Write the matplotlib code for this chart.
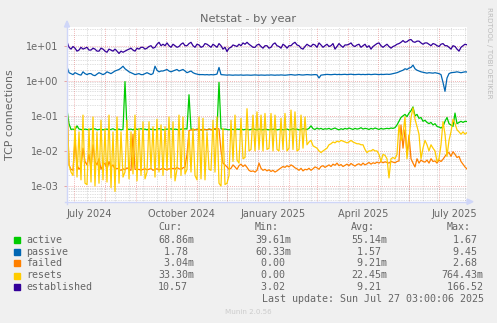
import datetime as dt

import numpy as np
import matplotlib
matplotlib.use('Agg')
import matplotlib.pyplot as plt
from matplotlib.lines import Line2D
from matplotlib.patches import Polygon, Rectangle
from matplotlib.ticker import FixedLocator, NullFormatter, NullLocator

W, H = 497, 323
START = dt.date(2024, 6, 24)
SPAN = 400

# samples every second day, 201 values per series
active = [
    0.15, 0.06, 0.041, 0.042, 0.04, 0.052, 0.042, 0.041, 0.04, 0.042,
    0.041, 0.04, 0.042, 0.041, 0.043, 0.04, 0.041, 0.042, 0.04, 0.041,
    0.042, 0.04, 0.041, 0.043, 0.04, 0.041, 0.042, 0.04, 0.041, 0.95,
    0.043, 0.041, 0.042, 0.04, 0.044, 0.041, 0.042, 0.043, 0.041, 0.042,
    0.04, 0.043, 0.041, 0.042, 0.04, 0.041, 0.043, 0.042, 0.04, 0.041,
    0.042, 0.041, 0.043, 0.04, 0.042, 0.041, 0.04, 0.042, 0.041, 0.043,
    0.042, 0.4, 0.042, 0.041, 0.04, 0.042, 0.041, 0.04, 0.042, 0.041,
    0.04, 0.042, 0.041, 0.04, 0.042, 0.041, 0.9, 0.043, 0.041, 0.042,
    0.041, 0.04, 0.042, 0.041, 0.04, 0.042, 0.041, 0.043, 0.04, 0.041,
    0.042, 0.04, 0.041, 0.043, 0.041, 0.04, 0.042, 0.041, 0.04, 0.042,
    0.041, 0.04, 0.042, 0.041, 0.043, 0.04, 0.041, 0.042, 0.04, 0.041,
    0.042, 0.04, 0.041, 0.043, 0.041, 0.042, 0.04, 0.041, 0.043, 0.042,
    0.041, 0.044, 0.052, 0.043, 0.041, 0.045, 0.042, 0.044, 0.041, 0.043,
    0.042, 0.044, 0.041, 0.043, 0.045, 0.042, 0.04, 0.043, 0.041, 0.044,
    0.042, 0.045, 0.043, 0.041, 0.044, 0.042, 0.043, 0.046, 0.042, 0.044,
    0.043, 0.041, 0.044, 0.042, 0.045, 0.043, 0.041, 0.044, 0.042, 0.043,
    0.044, 0.043, 0.045, 0.044, 0.046, 0.055, 0.07, 0.09, 0.1, 0.11,
    0.095, 0.12, 0.14, 0.18, 0.1, 0.11, 0.085, 0.09, 0.07, 0.075,
    0.065, 0.06, 0.065, 0.055, 0.06, 0.05, 0.048, 0.045, 0.05, 0.07,
    0.09, 0.06, 0.055, 0.05, 0.12, 0.06, 0.065, 0.07, 0.065, 0.07,
    0.06886,
]

passive = [
    2.5, 1.7, 1.6, 1.5, 1.7, 1.6, 1.5, 1.45, 1.8, 1.6,
    1.5, 1.6, 1.6, 1.45, 1.4, 1.55, 1.7, 1.6, 1.5, 1.6,
    1.8, 1.7, 1.6, 1.75, 1.9, 2.0, 2.1, 2.3, 2.6, 2.2,
    2.0, 1.8, 1.7, 1.6, 1.5, 1.55, 1.6, 1.5, 1.5, 1.6,
    1.7, 1.6, 1.5, 1.6, 2.6, 2.0, 1.8, 1.9, 1.9, 2.0,
    2.1, 1.9, 1.8, 1.9, 2.0, 2.1, 1.9, 2.0, 2.1, 1.9,
    1.7, 1.8, 1.9, 1.7, 1.6, 1.55, 1.5, 1.5, 1.5, 1.48,
    1.5, 1.47, 1.5, 1.48, 1.5, 1.55, 2.4, 1.5, 1.48, 1.45,
    1.45, 1.47, 1.45, 1.44, 1.46, 1.45, 1.45, 1.47, 1.44, 1.45,
    1.46, 1.45, 1.44, 1.45, 1.47, 1.45, 1.44, 1.46, 1.45, 1.44,
    1.46, 1.45, 1.47, 1.45, 1.44, 1.46, 1.45, 1.47, 1.45, 1.44,
    1.46, 1.48, 1.5, 1.47, 1.45, 1.48, 1.5, 1.47, 1.46, 1.48,
    1.5, 1.48, 1.47, 1.49, 1.5, 1.48, 1.2, 1.45, 1.48, 1.5,
    1.52, 1.5, 1.49, 1.51, 1.53, 1.5, 1.52, 1.5, 1.51, 1.53,
    1.5, 1.52, 1.54, 1.51, 1.5, 1.52, 1.53, 1.5, 1.52, 1.5,
    1.51, 1.53, 1.5, 1.52, 1.54, 1.52, 1.5, 1.53, 1.51, 1.52,
    1.54, 1.52, 1.55, 1.6, 1.65, 1.7, 1.8, 1.9, 2.0, 2.2,
    2.1, 2.3, 2.4, 2.8, 2.2, 2.0, 1.9, 1.8, 1.75, 1.7,
    1.65, 1.7, 1.68, 1.65, 1.7, 1.65, 1.6, 1.5, 0.9, 0.5,
    1.2, 1.6, 1.7, 1.72, 1.75, 1.8, 1.75, 1.7, 1.75, 1.8,
    1.78,
]

failed = [
    0.25, 0.004, 0.003, 0.0028, 0.02, 0.004, 0.003, 0.0035, 0.012, 0.005,
    0.004, 0.008, 0.003, 0.015, 0.005, 0.004, 0.006, 0.003, 0.004, 0.0045,
    0.003, 0.005, 0.0035, 0.004, 0.003, 0.0032, 0.003, 0.0028, 0.0031, 0.0029,
    0.0033, 0.003, 0.0028, 0.03, 0.003, 0.0029, 0.003, 0.0028, 0.003, 0.0031,
    0.0029, 0.003, 0.0032, 0.0028, 0.003, 0.0031, 0.0029, 0.003, 0.0033, 0.003,
    0.0029, 0.0031, 0.003, 0.0032, 0.003, 0.0034, 0.0031, 0.003, 0.0033, 0.0035,
    0.008, 0.038, 0.04, 0.039, 0.041, 0.04, 0.042, 0.04, 0.039, 0.041,
    0.04, 0.042, 0.04, 0.041, 0.043, 0.045, 0.042, 0.01, 0.0045, 0.004,
    0.0035, 0.003, 0.0032, 0.004, 0.0035, 0.003, 0.0038, 0.0042, 0.0036, 0.004,
    0.0034, 0.0028, 0.0026, 0.0027, 0.0025, 0.0028, 0.0045, 0.0032, 0.0028, 0.003,
    0.0027, 0.0029, 0.0026, 0.0028, 0.0025, 0.0027, 0.003, 0.0033, 0.0036, 0.0034,
    0.0038, 0.0035, 0.004, 0.0037, 0.0033, 0.0031, 0.0028, 0.0032, 0.0027, 0.003,
    0.0029, 0.0032, 0.0028, 0.0031, 0.0035, 0.0033, 0.003, 0.0036, 0.0038, 0.0034,
    0.0037, 0.004, 0.0036, 0.0042, 0.0039, 0.0045, 0.0038, 0.0041, 0.0036, 0.0039,
    0.0042, 0.0038, 0.0044, 0.004, 0.0037, 0.0041, 0.0043, 0.0039, 0.0045, 0.004,
    0.0043, 0.0047, 0.0042, 0.0046, 0.0044, 0.0048, 0.0045, 0.005, 0.0046, 0.0049,
    0.0047, 0.0045, 0.005, 0.0048, 0.0046, 0.005, 0.0052, 0.055, 0.012, 0.04,
    0.008, 0.028, 0.006, 0.0045, 0.0035, 0.006, 0.0045, 0.0055, 0.005, 0.0048,
    0.0055, 0.0045, 0.006, 0.005, 0.0052, 0.0045, 0.0055, 0.005, 0.0058, 0.007,
    0.0085, 0.009, 0.007, 0.0095, 0.008, 0.0065, 0.007, 0.005, 0.0042, 0.0035,
    0.00304,
]

resets = [
    0.2, 0.004, 0.0025, 0.002, 0.05, 0.0018, 0.035, 0.0015, 0.105, 0.0012,
    0.0011, 0.044, 0.0013, 0.093, 0.001, 0.035, 0.0012, 0.075, 0.0015, 0.044,
    0.0013, 0.105, 0.0009, 0.035, 0.0007, 0.093, 0.0012, 0.035, 0.0018, 0.0025,
    0.075, 0.0016, 0.035, 0.0022, 0.105, 0.0014, 0.044, 0.002, 0.068, 0.0016,
    0.0025, 0.068, 0.003, 0.049, 0.0018, 0.08, 0.0025, 0.055, 0.002, 0.049,
    0.0028, 0.093, 0.0017, 0.068, 0.0014, 0.003, 0.105, 0.002, 0.093, 0.0022,
    0.003, 0.035, 0.0025, 0.044, 0.002, 0.0015, 0.093, 0.0016, 0.085, 0.0015,
    0.035, 0.003, 0.0028, 0.075, 0.0025, 0.093, 0.0012, 0.001, 0.044, 0.0011,
    0.0012, 0.002, 0.075, 0.005, 0.105, 0.0055, 0.0045, 0.085, 0.006, 0.0065,
    0.16, 0.01, 0.011, 0.105, 0.01, 0.13, 0.011, 0.105, 0.01, 0.117,
    0.011, 0.012, 0.117, 0.01, 0.105, 0.011, 0.01, 0.085, 0.011, 0.117,
    0.01, 0.012, 0.146, 0.011, 0.13, 0.01, 0.011, 0.105, 0.012, 0.093,
    0.015, 0.018, 0.02, 0.014, 0.013, 0.012, 0.01, 0.009, 0.01, 0.011,
    0.012, 0.015, 0.016, 0.018, 0.017, 0.019, 0.018, 0.02, 0.019, 0.018,
    0.017, 0.018, 0.02, 0.018, 0.017, 0.016, 0.016, 0.015, 0.015, 0.011,
    0.009, 0.01, 0.01, 0.011, 0.01, 0.01, 0.008, 0.005, 0.008, 0.0075,
    0.006, 0.0017, 0.006, 0.0065, 0.006, 0.008, 0.055, 0.02, 0.03, 0.095,
    0.006, 0.02, 0.09, 0.17, 0.08, 0.05, 0.03, 0.006, 0.012, 0.02,
    0.015, 0.01, 0.015, 0.012, 0.01, 0.005, 0.006, 0.015, 0.068, 0.03,
    0.007, 0.02, 0.035, 0.08, 0.06, 0.04, 0.035, 0.03, 0.035, 0.03,
    0.0333,
]

established = [
    13, 9, 8, 9.5, 8.5, 7, 7.5, 9, 8, 8.5,
    9, 7.5, 7.5, 8.5, 8, 7, 7, 8.5, 8, 7,
    6.5, 8, 7.5, 7, 8, 7, 6, 7, 6.5, 7,
    7.5, 8, 8.5, 7.5, 7, 8.5, 8, 9, 9, 8,
    8.5, 9.5, 10, 8.5, 9, 11, 12.5, 10, 11, 10,
    12, 10, 9, 11, 10, 9, 9.5, 11, 12, 10,
    10, 11.5, 12.5, 10, 9, 11, 10.5, 9, 9.5, 11.5,
    11, 10, 9, 11, 10, 9, 11.5, 10, 8, 9,
    6.8, 8.5, 9, 10.5, 10, 9.5, 11, 10, 12, 11,
    12.5, 11, 10, 9, 9, 10.5, 11, 9.5, 8.5, 10,
    10, 8.5, 9, 11, 12, 10, 9.5, 8.5, 11, 10,
    8.5, 10, 10, 11.5, 12.5, 10.5, 10, 8.5, 8, 9.5,
    11, 10, 9.5, 11, 10.5, 9, 12, 10.5, 9, 10,
    11, 9.5, 10, 11.5, 8, 9.5, 11.5, 10, 9, 10.5,
    10.5, 11, 12, 10, 9.5, 10.5, 11, 9, 10, 11,
    9, 10, 8, 9.5, 10.5, 11.5, 12, 10, 9, 10,
    11, 9.5, 8.5, 9.5, 10, 11, 11.5, 12.5, 14, 12.5,
    13, 14.5, 15, 13, 12.5, 13.5, 13.5, 12, 11, 12,
    12, 11, 10, 11.5, 11, 10, 9.5, 11, 11.5, 10,
    10, 9, 8, 10, 9.5, 8, 7, 9, 10, 11,
    10.57,
]

series_names = ['active', 'passive', 'failed', 'resets', 'established']
series_colors = ['#00CC00', '#0066B3', '#FF8000', '#FFCC00', '#330099']
cur_txt = ['68.86m', ' 1.78', ' 3.04m', '33.30m', '10.57']
min_txt = ['39.61m', '60.33m', ' 0.00', ' 0.00', ' 3.02']
avg_txt = ['55.14m', ' 1.57', ' 9.21m', '22.45m', ' 9.21']
max_txt = ['  1.67', '  9.45', '  2.68', '764.43m', ' 166.52']

month_labels = ['July 2024', 'October 2024', 'January 2025', 'April 2025', 'July 2025']
label_dates = [dt.date(2024, 7, 16), dt.date(2024, 10, 16), dt.date(2025, 1, 16),
               dt.date(2025, 4, 16), dt.date(2025, 7, 16)]

FONT = '#666666'
AXIS = '#CFD6F8'
MGRID = (0.87, 0.31, 0.31, 0.55)
GRID = (0.56, 0.56, 0.56, 0.55)


def fx(x):
    return x / W


def fy(y):
    return 1 - y / H


def day_of(d):
    return (d - START).days


days = np.arange(0, SPAN + 1, 2)

fig = plt.figure(figsize=(W / 100, H / 100), dpi=100, facecolor='#F0F0F0')
top, bottom, left, right = 27, 201.7, 67, 467
ax = fig.add_axes([fx(left), fy(bottom), fx(right - left), (bottom - top) / H])
ax.set_facecolor('white')
ax.set_yscale('log')
ax.set_xlim(0, SPAN)
ax.set_ylim(10 ** -3.447, 10 ** 1.533)
for s in ax.spines.values():
    s.set_visible(False)

# horizontal grid: decades in red, 2..9 in grey
for e in range(-3, 2):
    ax.axhline(10.0 ** e, color=MGRID, lw=0.6, ls=(0, (1, 1.5)), zorder=1)
for e in range(-4, 2):
    for m in range(2, 10):
        v = m * 10.0 ** e
        if 10 ** -3.447 < v < 10 ** 1.533:
            ax.axhline(v, color=GRID, lw=0.5, ls=(0, (1, 1.5)), zorder=0.9)

# vertical grid: fortnightly Sundays in grey, month starts in red
sunday = dt.date(2024, 7, 14)
while day_of(sunday) < SPAN:
    ax.axvline(day_of(sunday), color=GRID, lw=0.5, ls=(0, (1, 1.5)), zorder=0.9)
    sunday += dt.timedelta(days=14)
y, m = 2024, 7
while True:
    d = day_of(dt.date(y, m, 1))
    if d > SPAN:
        break
    ax.axvline(d, color=MGRID, lw=0.6, ls=(0, (1, 1.5)), zorder=1)
    m += 1
    if m > 12:
        y, m = y + 1, 1

for vals, color in zip([active, passive, failed, resets, established], series_colors):
    ax.plot(days, vals, color=color, lw=0.9, zorder=3)

ax.yaxis.set_major_locator(FixedLocator([1e-3, 1e-2, 1e-1, 1e0, 1e1]))
ax.yaxis.set_major_formatter(plt.FuncFormatter(lambda v, p: f'{v:.0e}'))
ax.yaxis.set_minor_locator(NullLocator())
ax.yaxis.set_minor_formatter(NullFormatter())
ax.tick_params(axis='y', length=2, width=0.6, color=MGRID, pad=4,
               labelsize=7, labelcolor=FONT)
ax.set_xticks([day_of(d) for d in label_dates])
ax.set_xticklabels(month_labels)
ax.xaxis.set_minor_locator(NullLocator())
ax.tick_params(axis='x', length=0, pad=5, labelsize=7, labelcolor=FONT)

# axis lines with arrow heads
fig.add_artist(Line2D([fx(left), fx(left)], [fy(bottom + 2), fy(23)], color=AXIS, lw=1))
fig.add_artist(Line2D([fx(left - 2), fx(470)], [fy(bottom), fy(bottom)], color=AXIS, lw=1))
fig.add_artist(Polygon([[fx(64.5), fy(27)], [fx(69.5), fy(27)], [fx(67), fy(21)]],
                       closed=True, color=AXIS))
fig.add_artist(Polygon([[fx(467), fy(199)], [fx(467), fy(204.4)], [fx(473), fy(bottom)]],
                       closed=True, color=AXIS))

fig.text(fx(248.3), fy(19), 'Netstat - by year', ha='center', va='center',
         fontsize=8.2, color=FONT)
fig.text(fx(10.5), fy(114.7), 'TCP connections', rotation=90, ha='center',
         va='center', fontsize=7.9, color=FONT)
fig.text(fx(488.5), fy(52.5), 'RRDTOOL / TOBI OETIKER', rotation=270, ha='center',
         va='center', fontsize=5.1, color='#BBBBBB')

mono = dict(family='DejaVu Sans Mono', fontsize=7.2, color=FONT, va='center')
header_y = 227.3
row_y = [239.7, 251.7, 263.4, 275.5, 287.3]
for txt, x in zip(['Cur:', 'Min:', 'Avg:', 'Max:'], [158, 255, 351, 447]):
    fig.text(fx(x), fy(header_y), txt, **mono)
for i, name in enumerate(series_names):
    yy = row_y[i]
    fig.add_artist(Rectangle((fx(14), fy(yy + 3)), 6 / W, 6 / H,
                             color=series_colors[i], transform=fig.transFigure))
    fig.text(fx(26.3), fy(yy), name, **mono)
    fig.text(fx(158), fy(yy), cur_txt[i], **mono)
    fig.text(fx(255), fy(yy), min_txt[i], **mono)
    fig.text(fx(351), fy(yy), avg_txt[i], **mono)
    fig.text(fx(441), fy(yy), max_txt[i], **mono)
fig.text(fx(261.7), fy(299.3), 'Last update: Sun Jul 27 03:00:06 2025', **mono)
fig.text(fx(248), fy(311.7), 'Munin 2.0.56', ha='center', va='center',
         fontsize=5.1, color='#CCCCCC')

fig.savefig('out.png', dpi=100, facecolor=fig.get_facecolor())
